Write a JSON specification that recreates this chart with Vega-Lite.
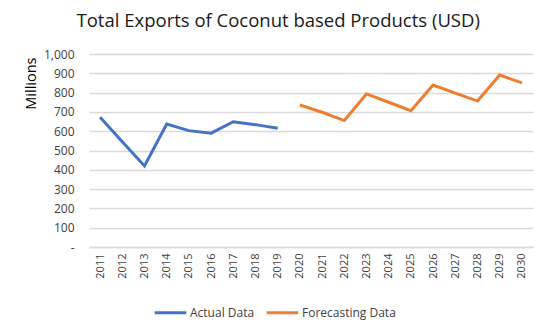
{
  "$schema": "https://vega.github.io/schema/vega-lite/v6.json",
  "width": 444,
  "height": 193,
  "padding": {"left": 23, "top": 11, "right": 10, "bottom": 5},
  "background": "white",
  "config": {
    "font": "Open Sans",
    "view": {"stroke": null}
  },
  "title": {
    "text": "Total Exports of Coconut based Products (USD)",
    "fontSize": 18.5,
    "fontWeight": "normal",
    "color": "#1a1a1a",
    "anchor": "middle",
    "frame": "bounds",
    "offset": 18
  },
  "data": {
    "values": [
      {"year": "2011", "value": 672, "series": "Actual Data"},
      {"year": "2012", "value": 545, "series": "Actual Data"},
      {"year": "2013", "value": 420, "series": "Actual Data"},
      {"year": "2014", "value": 637, "series": "Actual Data"},
      {"year": "2015", "value": 603, "series": "Actual Data"},
      {"year": "2016", "value": 590, "series": "Actual Data"},
      {"year": "2017", "value": 649, "series": "Actual Data"},
      {"year": "2018", "value": 634, "series": "Actual Data"},
      {"year": "2019", "value": 615, "series": "Actual Data"},
      {"year": "2020", "value": 736, "series": "Forecasting Data"},
      {"year": "2021", "value": 698, "series": "Forecasting Data"},
      {"year": "2022", "value": 655, "series": "Forecasting Data"},
      {"year": "2023", "value": 793, "series": "Forecasting Data"},
      {"year": "2024", "value": 750, "series": "Forecasting Data"},
      {"year": "2025", "value": 706, "series": "Forecasting Data"},
      {"year": "2026", "value": 839, "series": "Forecasting Data"},
      {"year": "2027", "value": 797, "series": "Forecasting Data"},
      {"year": "2028", "value": 756, "series": "Forecasting Data"},
      {"year": "2029", "value": 891, "series": "Forecasting Data"},
      {"year": "2030", "value": 850, "series": "Forecasting Data"}
    ]
  },
  "mark": {"type": "line", "strokeWidth": 3},
  "encoding": {
    "x": {
      "field": "year",
      "type": "ordinal",
      "scale": {"paddingInner": 0, "paddingOuter": 0},
      "axis": {
        "title": null,
        "labelAngle": -90,
        "labelFontSize": 11,
        "labelColor": "#404040",
        "ticks": false,
        "domainColor": "#d9d9d9",
        "domainWidth": 1.5,
        "labelPadding": 6,
        "labelBaseline": "middle"
      }
    },
    "y": {
      "field": "value",
      "type": "quantitative",
      "scale": {"domain": [0, 1000], "nice": false},
      "axis": {
        "title": "Millions",
        "titleFontSize": 14.5,
        "titleFontWeight": "normal",
        "titleColor": "#000000",
        "titleAnchor": "end",
        "titleY": 3,
        "titlePadding": 5,
        "values": [0, 100, 200, 300, 400, 500, 600, 700, 800, 900, 1000],
        "labelExpr": "datum.value == 0 ? '-' : format(datum.value, ',')",
        "labelFontSize": 12,
        "labelColor": "#404040",
        "labelPadding": 15,
        "ticks": false,
        "domain": false,
        "gridColor": "#d9d9d9",
        "gridWidth": 1.5
      }
    },
    "color": {
      "field": "series",
      "type": "nominal",
      "scale": {"domain": ["Actual Data", "Forecasting Data"], "range": ["#4472C4", "#ED7D31"]},
      "legend": {
        "title": null,
        "orient": "none",
        "legendX": 64,
        "legendY": 241,
        "direction": "horizontal",
        "symbolType": "stroke",
        "symbolStrokeWidth": 3,
        "symbolSize": 1000,
        "labelFontSize": 12,
        "labelColor": "#404040",
        "labelOffset": 2,
        "columnPadding": 5
      }
    }
  }
}
